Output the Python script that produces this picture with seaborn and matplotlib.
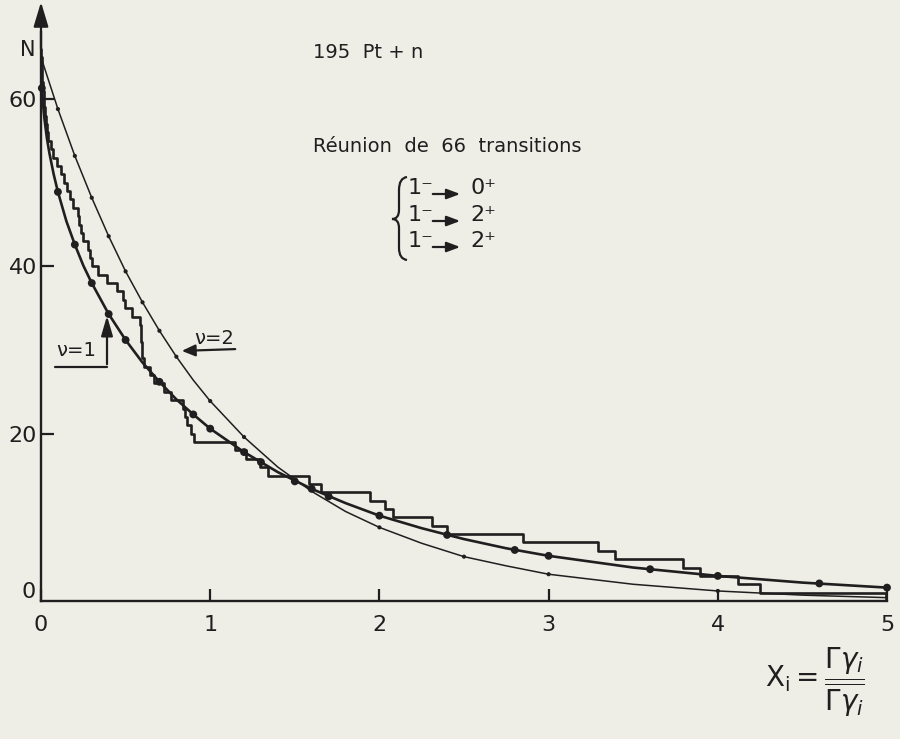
import numpy as np
import pandas as pd
import seaborn as sns
import matplotlib.pyplot as plt
from matplotlib.path import Path
from matplotlib.patches import PathPatch, FancyArrowPatch
from matplotlib.lines import Line2D

# ---------------------------------------------------------------
# Reduced widths x_i of the 66 transitions (sorted)
widths = [
    0.001, 0.003, 0.005, 0.008, 0.011, 0.015, 0.019, 0.024, 0.029, 0.035, 0.041,
    0.059, 0.071, 0.094, 0.118, 0.136, 0.153, 0.171, 0.189, 0.218, 0.224, 0.236, 0.248,
    0.277, 0.289, 0.301, 0.336, 0.389, 0.448, 0.484, 0.496, 0.537, 0.584, 0.590,
    0.593, 0.594, 0.595,
    0.608, 0.645,
    0.667, 0.726, 0.767, 0.838, 0.850, 0.861, 0.885, 0.903,
    1.145, 1.209, 1.292, 1.339,
    1.581, 1.652, 1.947, 2.035, 2.083, 2.313, 2.401, 2.850, 3.292, 3.392,
    3.794, 3.894, 4.118, 4.248, 4.997,
]

# Porter-Thomas curve, nu = 1
nu1_x = [0, 0.005, 0.01, 0.02, 0.035, 0.05, 0.075, 0.1, 0.15, 0.2, 0.25, 0.3,
         0.4, 0.5, 0.6, 0.7, 0.8, 0.9, 1.0, 1.2, 1.4, 1.6, 1.8, 2.0, 2.25,
         2.5, 2.75, 3.0, 3.5, 4.0, 4.5, 5.0]
nu1_n = [65.0, 61.3, 59.8, 57.7, 55.3, 53.5, 51.0, 48.9, 45.4, 42.6, 40.1, 38.0,
         34.3, 31.2, 28.5, 26.2, 24.1, 22.3, 20.6, 17.8, 15.4, 13.4, 11.7, 10.2, 8.7,
         7.4, 6.3, 5.4, 4.0, 3.0, 2.2, 1.6]

# Curve nu = 2
nu2_x = [0, 0.1, 0.2, 0.3, 0.4, 0.5, 0.6, 0.7, 0.8, 0.9, 1.0, 1.2, 1.4, 1.6,
         1.8, 2.0, 2.25, 2.5, 2.75, 3.0, 3.5, 4.0, 4.5, 5.0]
nu2_n = [65.0, 58.8, 53.2, 48.2, 43.6, 39.4, 35.7, 32.3, 29.2, 26.4, 23.9, 19.6,
         16.0, 13.1, 10.7, 8.8, 6.9, 5.3, 4.2, 3.2, 2.0, 1.2, 0.7, 0.4]

# plotted points on each curve
dots1_x = [0.005, 0.1, 0.2, 0.3, 0.4, 0.5, 0.7, 0.9, 1.0, 1.2, 1.3, 1.5, 1.6,
           1.7, 2.0, 2.4, 2.8, 3.0, 3.6, 4.0, 4.6, 5.0]
dots1_n = [61.3, 48.9, 42.6, 38.0, 34.3, 31.2, 26.2, 22.3, 20.6, 17.8, 16.6, 14.3,
           13.4, 12.5, 10.2, 7.9, 6.1, 5.4, 3.8, 3.0, 2.1, 1.6]
dots2_x = [0.1, 0.2, 0.3, 0.4, 0.5, 0.6, 0.7, 0.8, 1.0, 1.2, 2.0, 2.5, 3.0, 4.0]
dots2_n = [58.8, 53.2, 48.2, 43.6, 39.4, 35.7, 32.3, 29.2, 23.9, 19.6, 8.8, 5.3, 3.2, 1.2]

x_ticks = [0, 1, 2, 3, 4, 5]
y_ticks = [20, 40, 60]

# ---------------------------------------------------------------
INK = "#1f1f1f"
PAPER = "#eeede6"

sns.set_theme(style="ticks")
plt.rcParams["font.family"] = ["DejaVu Sans"]
plt.rcParams["mathtext.fontset"] = "dejavusans"

W, H = 900, 739
fig = plt.figure(figsize=(W / 100, H / 100), dpi=100)
fig.patch.set_facecolor(PAPER)


def fp(px, py):
    return (px / W, 1 - py / H)


ax = fig.add_axes([41 / W, 1 - 601 / H, 846 / W, 594 / H])
ax.set_facecolor(PAPER)

# step curve of the observed widths
sns.ecdfplot(x=widths, complementary=True, stat="count", ax=ax,
             color=INK, lw=1.9)

c1 = pd.DataFrame({"x": nu1_x, "N": nu1_n})
c2 = pd.DataFrame({"x": nu2_x, "N": nu2_n})
sns.lineplot(data=c1, x="x", y="N", ax=ax, color=INK, lw=1.9, sort=False)
sns.lineplot(data=c2, x="x", y="N", ax=ax, color=INK, lw=1.1, sort=False)
sns.scatterplot(x=dots1_x, y=dots1_n, ax=ax, color=INK, s=32,
                edgecolor="none", clip_on=False, zorder=5)
sns.scatterplot(x=dots2_x, y=dots2_n, ax=ax, color=INK, s=9,
                edgecolor="none", clip_on=False, zorder=5)

ax.set_xlim(0, 5)
ax.set_ylim(0, 71)
ax.set_xlabel("")
ax.set_ylabel("")

for s in ("top", "right"):
    ax.spines[s].set_visible(False)
for s in ("left", "bottom"):
    ax.spines[s].set_color(INK)
    ax.spines[s].set_linewidth(1.7)
ax.spines["left"].set_bounds(0, 68)
ax.spines["bottom"].set_bounds(0, 5)

ax.set_xticks(x_ticks)
ax.set_xticklabels([str(t) for t in x_ticks])
ax.set_yticks(y_ticks)
ax.set_yticklabels([str(t) for t in y_ticks])
ax.tick_params(axis="both", which="major", direction="in", length=9, width=1.6,
               colors=INK, labelcolor=INK, labelsize=16,
               left=True, bottom=True, top=False, right=False)
ax.tick_params(axis="x", pad=10)
ax.tick_params(axis="y", pad=3)
ax.text(-0.03, 1.1, "0", ha="right", va="center", fontsize=16, color=INK,
        transform=ax.transData, clip_on=False)

# arrow head on the ordinate
ax.annotate("", xy=(0, 71.6), xytext=(0, 66),
            arrowprops=dict(arrowstyle="-|>,head_length=1.5,head_width=0.45",
                            mutation_scale=10, lw=1.6, color=INK,
                            shrinkA=0, shrinkB=0),
            annotation_clip=False)
fig.text(*fp(28, 50), "N", ha="center", va="center", fontsize=15, color=INK)

# header text
fig.text(*fp(313, 52), "195  Pt + n", ha="left", va="center", fontsize=14, color=INK)
fig.text(*fp(313, 147), "Réunion  de  66  transitions", ha="left", va="center",
         fontsize=14, color=INK)

# brace
bx = [(407, 177), (399, 178), (399, 190), (399, 210), (399, 219), (392, 219),
      (399, 219), (399, 228), (399, 248), (399, 259), (407, 260)]
codes = [Path.MOVETO, Path.CURVE3, Path.CURVE3, Path.LINETO, Path.CURVE3, Path.CURVE3,
         Path.CURVE3, Path.CURVE3, Path.LINETO, Path.CURVE3, Path.CURVE3]
brace = PathPatch(Path([fp(*p) for p in bx], codes), transform=fig.transFigure,
                  fill=False, lw=1.6, color=INK)
fig.add_artist(brace)

for yc, final in ((188, "0⁺"), (215, "2⁺"), (241, "2⁺")):
    fig.text(*fp(408, yc), "1⁻", ha="left", va="center", fontsize=16, color=INK)
    fig.add_artist(FancyArrowPatch(fp(430, yc + 6), fp(463, yc + 6),
                                   transform=fig.transFigure,
                                   arrowstyle="-|>,head_length=0.8,head_width=0.3",
                                   mutation_scale=10, lw=1.6, color=INK))
    fig.text(*fp(470, yc), final, ha="left", va="center", fontsize=16, color=INK)

# curve labels
fig.text(*fp(76, 351), "ν=1", ha="center", va="center", fontsize=14, color=INK)
fig.add_artist(Line2D([55 / W, 107 / W], [1 - 367 / H, 1 - 367 / H],
                      transform=fig.transFigure, lw=1.6, color=INK))
fig.add_artist(FancyArrowPatch(fp(107, 367), fp(107, 313), transform=fig.transFigure,
                               arrowstyle="-|>,head_length=1.2,head_width=0.35",
                               mutation_scale=10, lw=1.6, color=INK))

fig.text(*fp(214, 339), "ν=2", ha="center", va="center", fontsize=14, color=INK)
fig.add_artist(FancyArrowPatch(fp(238, 349), fp(179, 351), transform=fig.transFigure,
                               arrowstyle="-|>,head_length=0.8,head_width=0.35",
                               mutation_scale=10, lw=1.6, color=INK))

# abscissa definition
fig.text(*fp(815, 682),
         r"$\mathregular{X_i} = \dfrac{\Gamma\gamma_i}{\overline{\Gamma\gamma_i}}$",
         ha="center", va="center", fontsize=20, color=INK)

fig.savefig("out.png", dpi=100, facecolor=PAPER)
